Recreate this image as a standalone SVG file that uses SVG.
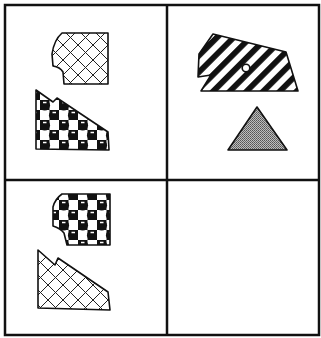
<svg xmlns="http://www.w3.org/2000/svg" width="321" height="338" viewBox="0 0 321 338">
<style>
.grid{fill:none;stroke:#111;stroke-width:2.5}
.shape{stroke:#111;stroke-width:1.6;stroke-linejoin:round}
</style>
<defs>
<pattern id="hatch" width="15" height="15" patternUnits="userSpaceOnUse" patternTransform="translate(3,0)">
<rect width="15" height="15" fill="#fff"/>
<path d="M0,0L15,15M15,0L0,15" stroke="#222" stroke-width="1"/>
</pattern>
<pattern id="checker" width="19" height="20" patternUnits="userSpaceOnUse" patternTransform="translate(2,0)">
<rect width="19" height="20" fill="#fff"/>
<rect x="0" y="0" width="9.5" height="10" fill="#111"/>
<rect x="9.5" y="10" width="9.5" height="10" fill="#111"/>
<circle cx="4.75" cy="5.2" r="5.3" fill="#111"/>
<circle cx="14.25" cy="15.2" r="5.3" fill="#111"/>
<path d="M3,2.5h3.5M12.5,12.5h3.5" stroke="#fff" stroke-width="1.3"/>
</pattern>
<pattern id="stripes" width="11.8" height="11.8" patternUnits="userSpaceOnUse" patternTransform="rotate(45)">
<rect width="11.8" height="11.8" fill="#fff"/>
<rect width="5.8" height="11.8" fill="#111"/>
</pattern>
<pattern id="stipple" width="2" height="2" patternUnits="userSpaceOnUse">
<rect width="2" height="2" fill="#bdbdbd"/>
<rect width="1" height="1" fill="#555"/>
<rect x="1" y="1" width="1" height="1" fill="#6a6a6a"/>
</pattern>
</defs>
<rect width="321" height="338" fill="#fff"/>
<g id="grid">
<rect class="grid" x="5" y="5" width="314" height="330"/>
<path class="grid" d="M167,5V335M5,180H319"/>
</g>
<g id="tl-hatch">
<path class="shape" fill="url(#hatch)" d="M62,33L108,33L108,84L64,84L63,72Q60,67 53,66L52,54Q54,40 62,33Z"/>
</g>
<g id="tl-checker">
<path class="shape" fill="url(#checker)" d="M36,90L53,102L57,98L108,132L109,150L36,149Z"/>
</g>
<g id="tr-stripes">
<path class="shape" fill="url(#stripes)" d="M213,34L286,52L298,91L201,91L211,75L198,77L199,54Z"/>
<circle class="shape" cx="246" cy="68" r="3.8" fill="#fff" stroke-width="1.2"/>
</g>
<g id="tr-triangle">
<path class="shape" fill="url(#stipple)" d="M257,107L287,150L228,150Z"/>
</g>
<g id="bl-checker">
<path class="shape" fill="url(#checker)" d="M62,194L110,194L110,245L67,245L64,233Q60,228 53,226L53,207Q55,199 62,194Z"/>
</g>
<g id="bl-hatch">
<path class="shape" fill="url(#hatch)" d="M38,250L55,265L58,258L108,292L110,310L38,308Z"/>
</g>
</svg>
